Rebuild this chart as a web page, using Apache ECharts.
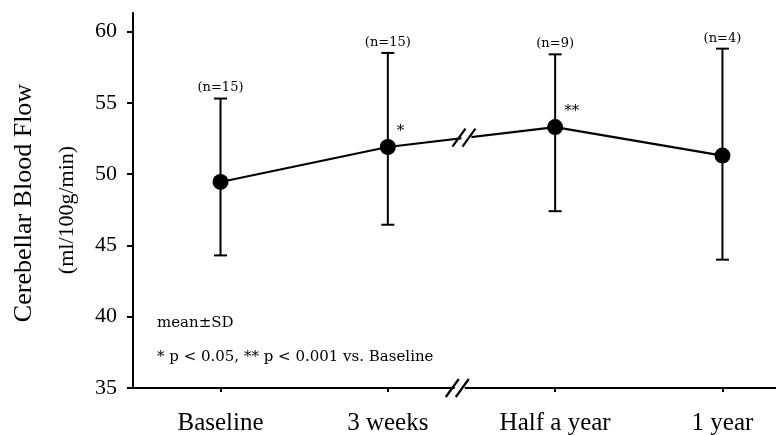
<!DOCTYPE html>
<html>
<head>
<meta charset="utf-8">
<script src="https://cdn.jsdelivr.net/npm/echarts@6/dist/echarts.min.js"></script>
<style>
html,body{margin:0;padding:0;background:#fff;}
#chart{width:776px;height:435px;}
</style>
</head>
<body>
<div id="chart"></div>
<script>
const categories = ['Baseline', '3 weeks', 'Half a year', '1 year'];
const means = [49.45, 51.9, 53.3, 51.3];
const sdUpper = [55.3, 58.5, 58.4, 58.8];
const sdLower = [44.3, 46.45, 47.4, 44.0];
const nLabels = ['(n=15)', '(n=15)', '(n=9)', '(n=4)'];
const stars = ['', '*', '**', ''];
const yTicks = [35, 40, 45, 50, 55, 60];
const catIndex = [0, 1, 2, 3];
const axisBreakX = 1.43;
const lineBreakX = 1.47;

const serifH = '"DejaVu Serif", serif';
const serifV = '"Liberation Serif", "Times New Roman", serif';

const chart = echarts.init(document.getElementById('chart'), null, {renderer: 'canvas'});

const option = {
  backgroundColor: '#fff',
  animation: false,
  grid: {left: 133, right: 0, top: 13, bottom: 47, containLabel: false, outerBoundsMode: 'none'},
  xAxis: {
    type: 'value',
    min: -0.523,
    max: 3.32,
    axisLine: {show: true, onZero: false, lineStyle: {color: '#000', width: 2}},
    axisTick: {show: true, customValues: catIndex, length: 4, lineStyle: {color: '#000', width: 2}},
    axisLabel: {
      customValues: catIndex,
      formatter: v => categories[Math.round(v)] || '',
      color: '#000', fontFamily: serifV, fontSize: 25, margin: 23
    },
    splitLine: {show: false}
  },
  yAxis: {
    type: 'value',
    min: 35,
    max: 61.3,
    interval: 5,
    axisLine: {show: true, onZero: false, lineStyle: {color: '#000', width: 2}},
    axisTick: {show: true, customValues: yTicks, length: 6, lineStyle: {color: '#000', width: 2}},
    axisLabel: {customValues: yTicks, color: '#000', fontFamily: serifV, fontSize: 22, margin: 16},
    splitLine: {show: false}
  },
  graphic: [
    {type: 'text', x: 24, y: 203, rotation: Math.PI / 2,
     style: {text: 'Cerebellar Blood Flow', fontFamily: serifV, fontSize: 26, fill: '#000', align: 'center', verticalAlign: 'middle'}},
    {type: 'text', x: 67, y: 210, rotation: Math.PI / 2,
     style: {text: '(ml/100g/min)', fontFamily: serifV, fontSize: 22, fill: '#000', align: 'center', verticalAlign: 'middle'}},
    {type: 'text', x: 157, y: 323,
     style: {text: 'mean\u00b1SD', fontFamily: serifH, fontSize: 15, fill: '#000', align: 'left', verticalAlign: 'middle'}},
    {type: 'text', x: 157, y: 357,
     style: {text: '* p < 0.05, ** p < 0.001 vs. Baseline', fontFamily: serifH, fontSize: 15, fill: '#000', align: 'left', verticalAlign: 'middle'}}
  ],
  series: [
    {
      type: 'custom',
      name: 'sd',
      z: 1,
      clip: false,
      data: catIndex.map(i => [i, sdLower[i], sdUpper[i]]),
      encode: {x: 0, y: [1, 2]},
      renderItem: function (params, api) {
        const i = api.value(0);
        const lo = api.coord([i, api.value(1)]);
        const hi = api.coord([i, api.value(2)]);
        const mid = api.coord([i, means[i]]);
        const cw = 6.5;
        const st = {stroke: '#000', lineWidth: 2};
        const children = [
          {type: 'line', shape: {x1: lo[0], y1: lo[1], x2: hi[0], y2: hi[1]}, style: st},
          {type: 'line', shape: {x1: hi[0] - cw, y1: hi[1], x2: hi[0] + cw, y2: hi[1]}, style: st},
          {type: 'line', shape: {x1: lo[0] - cw, y1: lo[1], x2: lo[0] + cw, y2: lo[1]}, style: st},
          {type: 'text', x: hi[0], y: hi[1] - 4,
           style: {text: nLabels[i], fontFamily: serifH, fontSize: 13, fill: '#000', align: 'center', verticalAlign: 'bottom'}}
        ];
        if (stars[i]) {
          children.push({type: 'text', x: mid[0] + 9, y: mid[1] - 8,
            style: {text: stars[i], fontFamily: serifH, fontSize: 15, fill: '#000', align: 'left', verticalAlign: 'bottom'}});
        }
        return {type: 'group', children: children};
      }
    },
    {
      type: 'line',
      name: 'mean',
      z: 2,
      data: catIndex.map(i => [i, means[i]]),
      symbol: 'circle',
      symbolSize: 16,
      itemStyle: {color: '#000'},
      lineStyle: {color: '#000', width: 2.2},
      silent: true
    },
    {
      type: 'custom',
      name: 'breaks',
      z: 5,
      clip: false,
      data: [[axisBreakX, 35, 0], [lineBreakX, 35, 1]],
      encode: {x: 0, y: 1},
      renderItem: function (params, api) {
        const bx = api.value(0);
        let p;
        if (api.value(2) === 0) {
          p = api.coord([bx, api.value(1)]);
        } else {
          const a = api.coord([1, means[1]]);
          const b = api.coord([2, means[2]]);
          const px = api.coord([bx, 35])[0];
          const t = (px - a[0]) / (b[0] - a[0]);
          p = [px, a[1] + t * (b[1] - a[1])];
        }
        const st = {stroke: '#000', lineWidth: 2.2};
        return {type: 'group', children: [
          {type: 'rect', shape: {x: p[0] - 5, y: p[1] - 4, width: 10, height: 8}, style: {fill: '#fff'}},
          {type: 'line', shape: {x1: p[0] - 14, y1: p[1] + 9, x2: p[0] - 1, y2: p[1] - 9}, style: st},
          {type: 'line', shape: {x1: p[0] - 4, y1: p[1] + 9, x2: p[0] + 9, y2: p[1] - 9}, style: st}
        ]};
      }
    }
  ]
};
chart.setOption(option);
</script>
</body>
</html>
